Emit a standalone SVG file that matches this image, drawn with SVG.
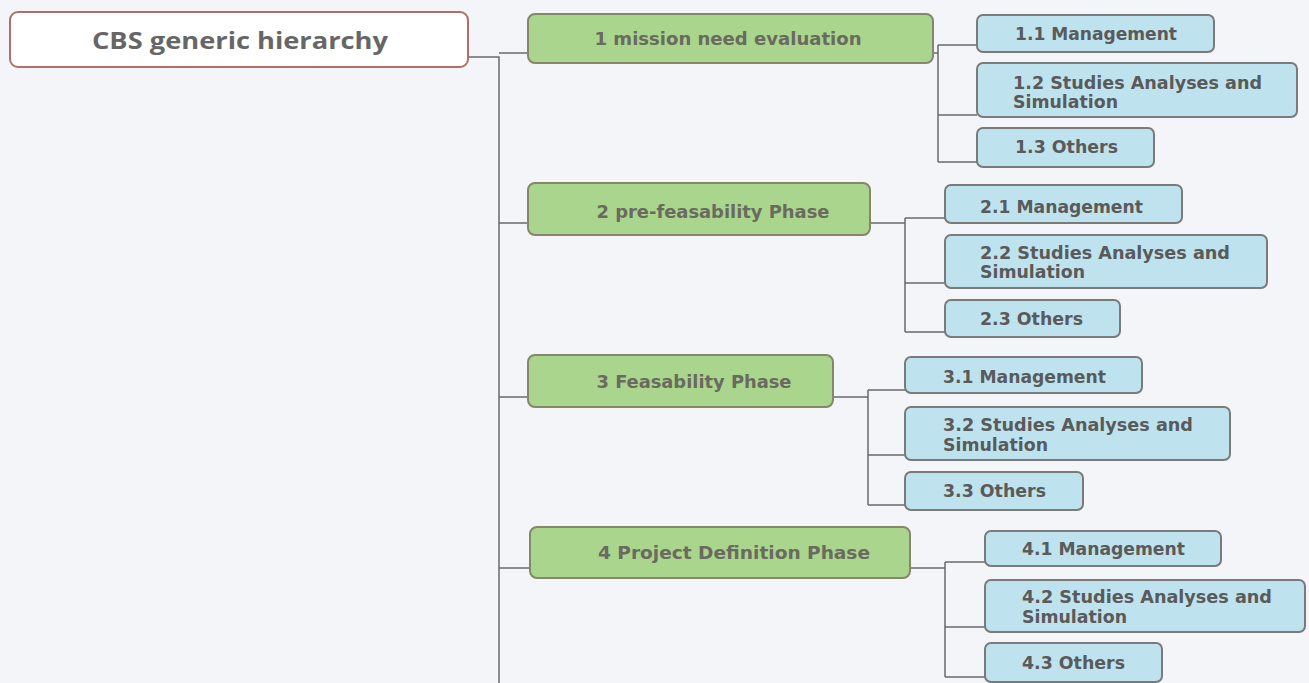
<svg xmlns="http://www.w3.org/2000/svg" width="1309" height="683" viewBox="0 0 1309 683">
<style>
.bg{fill:#f3f5f8}
.root{fill:#ffffff;stroke:#b26f69;stroke-width:2}
.ph{fill:#a9d68c;stroke:#86866a;stroke-width:2}
.lf{fill:#bfe3ee;stroke:#7a7a7a;stroke-width:2}
.rt{font-family:"Open Sans","DejaVu Sans",sans-serif;font-weight:bold;font-size:23px;fill:#666666;text-anchor:middle}
.pt{font-family:"DejaVu Sans Condensed","DejaVu Sans",sans-serif;font-weight:bold;font-size:17px;fill:#6a6a60;text-anchor:middle}
.lt{font-family:"DejaVu Sans Condensed","DejaVu Sans",sans-serif;font-weight:bold;font-size:17px;fill:#5a5a5a}
.cn{fill:none;stroke:#6a6a6a;stroke-width:1.5}
</style>
<rect class="bg" x="0" y="0" width="1309" height="683"/>
<g id="connectors" class="cn">
<path d="M468,57 H499 V683"/>
<path d="M499,53 H528 M499,223 H528 M499,397 H528 M499,568 H530"/>
<path d="M933,53 H938 M938,45 V162 M938,45 H977 M938,115 H977 M938,162 H977"/>
<path d="M870,223 H905 M905,218 V332 M905,218 H945 M905,283 H945 M905,332 H945"/>
<path d="M833,397 H868 M868,390 V505 M868,390 H905 M868,455 H905 M868,505 H905"/>
<path d="M910,568 H945 M945,562 V677 M945,562 H985 M945,627 H985 M945,677 H985"/>
</g>
<g id="root">
<rect class="root" x="10" y="12" width="458" height="55" rx="8"/>
<text class="rt" x="240" y="49" textLength="296" lengthAdjust="spacingAndGlyphs">CBS generic hierarchy</text>
</g>
<g id="p1">
<rect class="ph" x="528" y="14" width="405" height="49" rx="7"/>
<text class="pt" x="728" y="45" textLength="267" lengthAdjust="spacingAndGlyphs">1 mission need evaluation</text>
</g>
<g id="p2">
<rect class="ph" x="528" y="183" width="342" height="52" rx="7"/>
<text class="pt" x="713" y="218" textLength="233" lengthAdjust="spacingAndGlyphs">2 pre-feasability Phase</text>
</g>
<g id="p3">
<rect class="ph" x="528" y="355" width="305" height="52" rx="7"/>
<text class="pt" x="694" y="388" textLength="195" lengthAdjust="spacingAndGlyphs">3 Feasability Phase</text>
</g>
<g id="p4">
<rect class="ph" x="530" y="527" width="380" height="51" rx="7"/>
<text class="pt" x="734" y="559" textLength="272" lengthAdjust="spacingAndGlyphs">4 Project Definition Phase</text>
</g>
<g id="n11"><rect class="lf" x="977" y="15" width="237" height="37" rx="6"/><text class="lt" x="1015" y="40" textLength="162" lengthAdjust="spacingAndGlyphs">1.1 Management</text></g>
<g id="n12"><rect class="lf" x="977" y="63" width="320" height="54" rx="6"/><text class="lt" x="1013" y="89" textLength="249" lengthAdjust="spacingAndGlyphs">1.2 Studies Analyses and</text><text class="lt" x="1013" y="108" textLength="105" lengthAdjust="spacingAndGlyphs">Simulation</text></g>
<g id="n13"><rect class="lf" x="977" y="128" width="177" height="39" rx="6"/><text class="lt" x="1015" y="153" textLength="103" lengthAdjust="spacingAndGlyphs">1.3 Others</text></g>
<g id="n21"><rect class="lf" x="945" y="185" width="237" height="38" rx="6"/><text class="lt" x="980" y="213" textLength="163" lengthAdjust="spacingAndGlyphs">2.1 Management</text></g>
<g id="n22"><rect class="lf" x="945" y="235" width="322" height="53" rx="6"/><text class="lt" x="980" y="259" textLength="250" lengthAdjust="spacingAndGlyphs">2.2 Studies Analyses and</text><text class="lt" x="980" y="278" textLength="105" lengthAdjust="spacingAndGlyphs">Simulation</text></g>
<g id="n23"><rect class="lf" x="945" y="300" width="175" height="37" rx="6"/><text class="lt" x="980" y="325" textLength="103" lengthAdjust="spacingAndGlyphs">2.3 Others</text></g>
<g id="n31"><rect class="lf" x="905" y="357" width="237" height="36" rx="6"/><text class="lt" x="943" y="383" textLength="163" lengthAdjust="spacingAndGlyphs">3.1 Management</text></g>
<g id="n32"><rect class="lf" x="905" y="407" width="325" height="53" rx="6"/><text class="lt" x="943" y="431" textLength="250" lengthAdjust="spacingAndGlyphs">3.2 Studies Analyses and</text><text class="lt" x="943" y="451" textLength="105" lengthAdjust="spacingAndGlyphs">Simulation</text></g>
<g id="n33"><rect class="lf" x="905" y="472" width="178" height="38" rx="6"/><text class="lt" x="943" y="497" textLength="103" lengthAdjust="spacingAndGlyphs">3.3 Others</text></g>
<g id="n41"><rect class="lf" x="985" y="531" width="236" height="35" rx="6"/><text class="lt" x="1022" y="555" textLength="163" lengthAdjust="spacingAndGlyphs">4.1 Management</text></g>
<g id="n42"><rect class="lf" x="985" y="580" width="320" height="52" rx="6"/><text class="lt" x="1022" y="603" textLength="250" lengthAdjust="spacingAndGlyphs">4.2 Studies Analyses and</text><text class="lt" x="1022" y="623" textLength="105" lengthAdjust="spacingAndGlyphs">Simulation</text></g>
<g id="n43"><rect class="lf" x="985" y="643" width="177" height="39" rx="6"/><text class="lt" x="1022" y="669" textLength="103" lengthAdjust="spacingAndGlyphs">4.3 Others</text></g>
</svg>
